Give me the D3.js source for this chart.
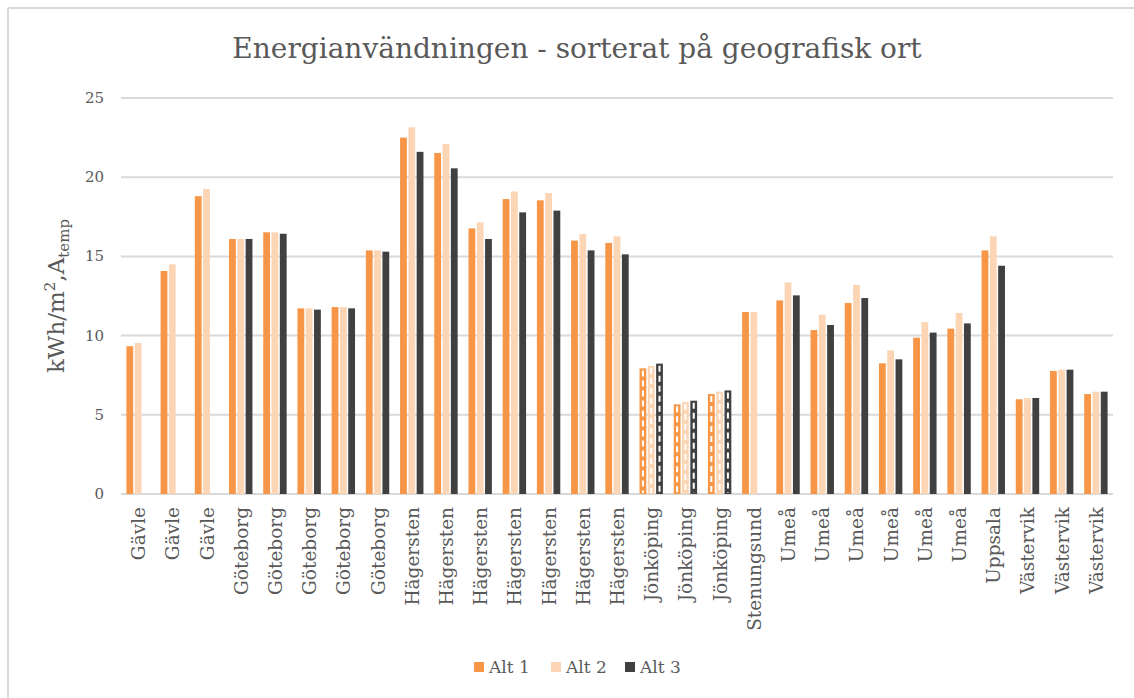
<!DOCTYPE html>
<html><head><meta charset="utf-8">
<script src="https://cdn.jsdelivr.net/npm/d3@7"></script>
<style>
html,body{margin:0;padding:0;background:#fff;}
svg{display:block;}
text{font-family:"DejaVu Serif","Liberation Serif",serif;fill:#595959;}
</style></head>
<body>
<svg id="chart" width="1134" height="698"></svg>
<script>
const categories = ["Gävle","Gävle","Gävle","Göteborg","Göteborg","Göteborg","Göteborg","Göteborg",
  "Hägersten","Hägersten","Hägersten","Hägersten","Hägersten","Hägersten","Hägersten",
  "Jönköping","Jönköping","Jönköping","Stenungsund","Umeå","Umeå","Umeå","Umeå","Umeå","Umeå",
  "Uppsala","Västervik","Västervik","Västervik"];
const alt1 = [9.33,14.08,18.8,16.1,16.52,11.72,11.8,15.38,22.5,21.53,16.77,18.62,18.54,16.0,15.85,
  7.93,5.66,6.31,11.49,12.22,10.35,12.06,8.25,9.87,10.44,15.38,5.98,7.77,6.31];
const alt2 = [9.53,14.5,19.25,16.1,16.52,11.72,11.8,15.38,23.15,22.1,17.15,19.1,19.0,16.41,16.27,
  8.08,5.81,6.46,11.49,13.36,11.32,13.2,9.07,10.86,11.43,16.27,6.06,7.85,6.46];
const alt3 = [null,null,null,16.1,16.43,11.64,11.72,15.3,21.6,20.56,16.1,17.78,17.89,15.38,15.13,
  8.23,5.89,6.54,null,12.54,10.67,12.37,8.5,10.19,10.77,14.41,6.06,7.85,6.46];
const hatched = [15,16,17];
const seriesNames = ["Alt 1","Alt 2","Alt 3"];
const seriesColors = ["#f79646","#fcd5b5","#404040"];
const yTicks = [0,5,10,15,20,25];
const title = "Energianvändningen - sorterat på geografisk ort";

const svg = d3.select("#chart");
svg.append("line").attr("x1",8).attr("x2",1134).attr("y1",8).attr("y2",8).attr("stroke","#d9d9d9").attr("stroke-width",2);
svg.append("line").attr("x1",8).attr("x2",8).attr("y1",8).attr("y2",698).attr("stroke","#d9d9d9").attr("stroke-width",2);

const pLeft=121, pRight=1113, pTop=98, pBottom=494;
const ids = d3.range(categories.length);
const x = d3.scaleBand().domain(ids).range([pLeft,pRight]);
const y = d3.scaleLinear().domain([0,25]).range([pBottom,pTop]);
const inner = d3.scaleBand().domain([0,1,2]).range([-11.7,11.7]).paddingInner(0.18);

svg.append("text").attr("x",577).attr("y",58).attr("text-anchor","middle")
  .attr("font-size",28).text(title);

svg.append("g").selectAll("line").data(yTicks).join("line")
  .attr("x1",pLeft).attr("x2",pRight).attr("y1",d=>y(d)).attr("y2",d=>y(d))
  .attr("stroke","#d9d9d9").attr("stroke-width",2);

svg.append("g").selectAll("text").data(yTicks).join("text")
  .attr("x",104).attr("y",d=>y(d)+5).attr("text-anchor","end").attr("font-size",15).text(d=>d);

const yl = svg.append("text").attr("transform","translate(64,296) rotate(-90)").attr("text-anchor","middle").attr("font-size",23);
yl.append("tspan").text("kWh/m");
yl.append("tspan").attr("dy",-9).attr("font-size",15).text("2");
yl.append("tspan").attr("dy",9).text(",A");
yl.append("tspan").attr("dy",5).attr("font-size",15).text("temp");

const series = [alt1,alt2,alt3];
const bars = svg.append("g");
series.forEach((vals,s)=>{
  const data = vals.map((v,i)=>({v,i})).filter(d=>d.v!=null);
  const g = bars.append("g");
  data.forEach(d=>{
    const bx = x(d.i)+x.bandwidth()/2+inner(s);
    const bw = inner.bandwidth();
    const isH = hatched.includes(d.i);
    g.append("rect").attr("x",bx).attr("y",y(d.v)).attr("width",bw).attr("height",y(0)-y(d.v))
      .attr("fill",seriesColors[s]);
    if(isH){
      g.append("line").attr("x1",bx+bw/2).attr("x2",bx+bw/2).attr("y1",y(d.v)+2).attr("y2",y(0)-1)
        .attr("stroke","#fff").attr("stroke-width",2).attr("stroke-dasharray","6,4");
    }
  });
});

svg.append("g").selectAll("text").data(ids).join("text")
  .attr("transform",i=>`translate(${x(i)+x.bandwidth()/2+7},507) rotate(-90)`)
  .attr("text-anchor","end").attr("font-size",18.5).text(i=>categories[i]);

const lg = svg.append("g");
const legX = [474,551,625];
seriesNames.forEach((n,s)=>{
  lg.append("rect").attr("x",legX[s]).attr("y",662).attr("width",10).attr("height",10).attr("fill",seriesColors[s]);
  lg.append("text").attr("x",legX[s]+15).attr("y",673).attr("font-size",17).text(n);
});
</script>
</body></html>
